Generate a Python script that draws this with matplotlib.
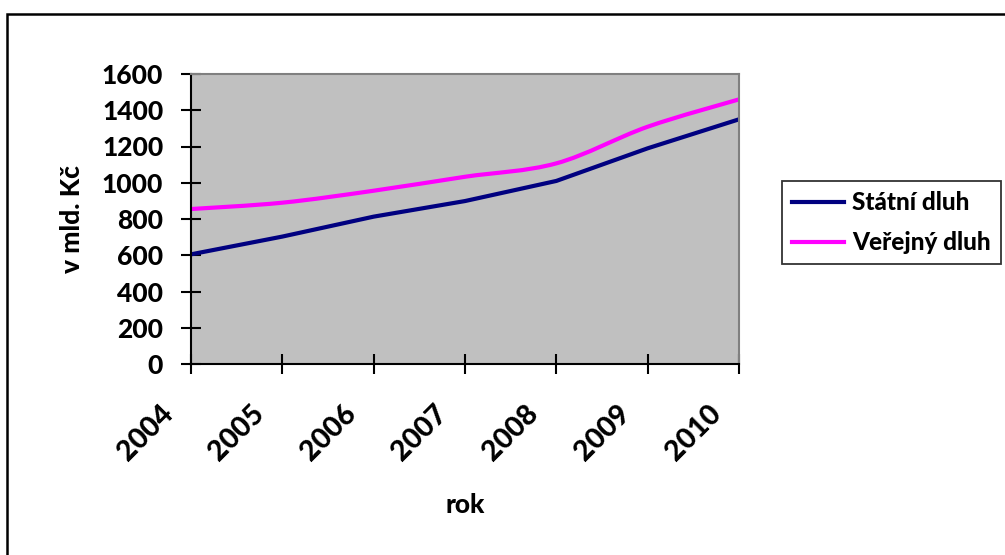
import matplotlib
matplotlib.use("Agg")
import matplotlib.pyplot as plt
import matplotlib.transforms as mtransforms
from matplotlib.path import Path
from matplotlib.patches import PathPatch, Rectangle
from matplotlib.lines import Line2D
import numpy as np

plt.rcParams['font.family'] = ['Lato', 'DejaVu Sans']
plt.rcParams['font.weight'] = 'black'

roky = [2004, 2005, 2006, 2007, 2008, 2009, 2010]
statni_dluh = [605, 703, 813, 899, 1010, 1190, 1350]
verejny_dluh = [855, 890, 956, 1033, 1107, 1309, 1460]

NAVY = '#000080'
MAGENTA = '#FF00FF'
W = 'black'


def smooth_path(x, y):
    # Bezier curve through the points (Excel style smoothed line)
    pts = np.column_stack([x, y]).astype(float)
    n = len(pts)
    verts = [pts[0]]
    codes = [Path.MOVETO]
    for i in range(n - 1):
        p0 = pts[i - 1] if i > 0 else pts[i]
        p1 = pts[i]
        p2 = pts[i + 1]
        p3 = pts[i + 2] if i + 2 < n else pts[i + 1]
        c1 = p1 + (p2 - p0) / 6.0
        c2 = p2 - (p3 - p1) / 6.0
        verts += [c1, c2, p2]
        codes += [Path.CURVE4] * 3
    return Path(verts, codes)


fig = plt.figure(figsize=(10.05, 5.55), dpi=100)
ax = fig.add_axes([191 / 1005, 1 - 364 / 555, 548 / 1005, 290 / 555])
ax.set_facecolor('#C0C0C0')

ax.plot(roky, statni_dluh, color=NAVY, lw=3, solid_capstyle='butt')
ax.add_patch(PathPatch(smooth_path(roky, verejny_dluh), facecolor='none',
                       edgecolor=MAGENTA, lw=3, transform=ax.transData))

ax.set_xlim(2004, 2010)
ax.set_ylim(0, 1600)
ax.set_yticks(range(0, 1601, 200))
ax.set_yticklabels([str(v) for v in range(0, 1601, 200)], fontweight=W)
ax.set_xticks(roky)
ax.set_xticklabels([])

for s in ['top', 'right']:
    ax.spines[s].set_color('#808080')
    ax.spines[s].set_linewidth(1.5)
for s in ['left', 'bottom']:
    ax.spines[s].set_color('black')
    ax.spines[s].set_linewidth(1.5)

ax.tick_params(axis='both', direction='inout', length=14, width=1.5,
               labelsize=19, colors='black')
ax.tick_params(axis='y', pad=13)

# slanted year labels, placed below and left of each tick
offset = mtransforms.ScaledTranslation(-31 / 100, -36 / 100, fig.dpi_scale_trans)
for r in roky:
    ax.text(r, 0, str(r), transform=ax.get_xaxis_transform() + offset,
            rotation=45, ha='right', va='top', rotation_mode='anchor',
            fontsize=20.5, fontweight=W)

ax.text(0.5, 0, 'rok', transform=ax.transAxes + mtransforms.ScaledTranslation(
    0, -141 / 100, fig.dpi_scale_trans), ha='center', va='center',
    fontsize=19, fontweight=W)
ax.set_ylabel('v mld. Kč', fontsize=19, fontweight=W, labelpad=13)

handles = [Line2D([], [], color=NAVY, lw=3),
           Line2D([], [], color=MAGENTA, lw=3)]
leg = fig.legend(handles, ['Státní dluh', 'Veřejný dluh'],
                 loc='upper left', bbox_to_anchor=(782 / 1005, 1 - 181 / 555),
                 fontsize=17.5, frameon=True, fancybox=False, borderpad=0.42,
                 handlelength=2.15, handletextpad=0.3, labelspacing=0.7,
                 borderaxespad=0)
leg.get_frame().set_edgecolor('black')
leg.get_frame().set_linewidth(1.3)
for t in leg.get_texts():
    t.set_fontweight(W)

# outer frame of the chart
fig.patches.append(Rectangle((7 / 1005, -0.1), 1.2, 1.1 - 14 / 555,
                             transform=fig.transFigure, fill=False,
                             edgecolor='black', lw=1.8))

fig.savefig('out.png', dpi=100)
